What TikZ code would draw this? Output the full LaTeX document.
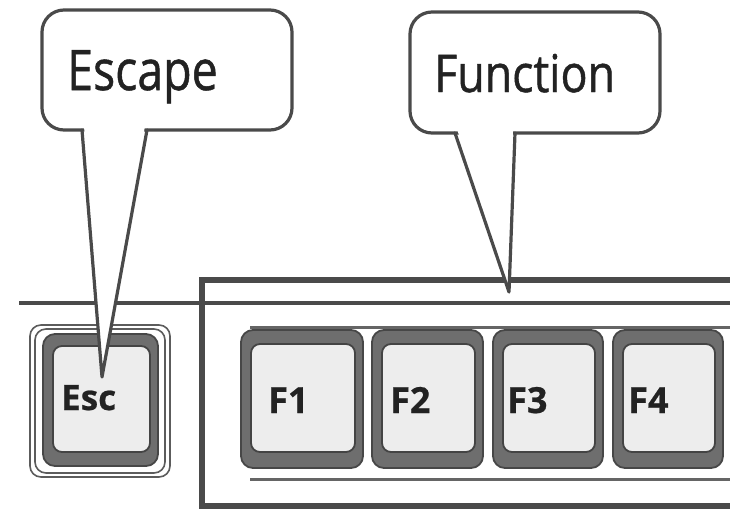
\documentclass[tikz,border=0pt]{standalone}
\usepackage{fontspec}
\setmainfont{Open Sans}
\newfontfamily\bubblefont[FakeBold=0.9]{Open Sans}
\newfontfamily\keyfont[FakeBold=0.6]{Open Sans Bold}
\usepackage{graphicx}
\definecolor{linec}{HTML}{4A4A4A}
\definecolor{ringc}{HTML}{6E6E6E}
\definecolor{ringd}{HTML}{474747}
\definecolor{facec}{HTML}{EDEDED}
\definecolor{faced}{HTML}{444444}
\definecolor{txt}{HTML}{222222}
\begin{document}
\begin{tikzpicture}[x=1pt,y=-1pt,
  callout/.style={draw=linec, line width=3.2pt, fill=white},
  tailline/.style={draw=linec, line width=3.2pt, line join=round, line cap=round},
  frameline/.style={draw=linec, line width=5.5pt},
  thinline/.style={draw=linec, line width=3.2pt},
  trayline/.style={draw=linec!85, line width=3pt},
  ring/.style={draw=ringd, fill=ringc, line width=1.8pt, rounded corners=12pt},
  face/.style={draw=faced, fill=facec, line width=1.8pt, rounded corners=9pt},
  escframe/.style={draw=linec!90, line width=1.6pt, rounded corners=11pt},
  keylabel/.style={font=\fontsize{36}{36}\keyfont, text=txt, inner sep=0pt, anchor=base west},
  bubbletext/.style={text=txt, inner sep=0pt, anchor=base west}]
\useasboundingbox[fill=white] (0,0) rectangle (730,515);

% keyboard frame
\draw[thinline] (19,303) -- (730,303);
\draw[frameline] (740,280) -- (202,280) -- (202,506) -- (740,506);
\draw[trayline] (250,327) -- (730,327);
\draw[trayline] (250,479) -- (730,479);

% Esc key
\draw[escframe] (30,325) rectangle (170,477);
\draw[escframe] (35,329) rectangle (165,473);
\draw[ring] (43,334) rectangle (158,466);
\draw[face] (53,346) rectangle (150,452);
\node[keylabel, font=\fontsize{35}{35}\keyfont] (esc) at (61,410) {Esc};

% F keys
\foreach \xa/\xb in {241/363, 372/483, 493/603, 613/723}{
  \draw[ring] (\xa,330) rectangle (\xb,468);
  \draw[face] ({\xa+10},344) rectangle ({\xb-8},452);
}
\node[keylabel] (f1) at (268,413) {F1};
\node[keylabel] (f2) at (390,413) {F2};
\node[keylabel] (f3) at (507,413) {F3};
\node[keylabel] (f4) at (628,413) {F4};

% Escape callout
\coordinate (esctip) at (102,377);
\coordinate (escl) at (82,130);
\coordinate (escr) at (147,130);
\draw[callout, rounded corners=22pt] (42,10) rectangle (292,130);
\fill[white] (84,126) -- (esctip) -- (145,126) -- cycle;
\draw[tailline] (escl) -- (esctip) -- (escr);
\node[bubbletext] (escape) at (67,90) {\scalebox{0.83}[1]{\fontsize{56}{56}\bubblefont Escape}};

% Function callout
\coordinate (fntip) at (509,292);
\coordinate (fnl) at (455,133);
\coordinate (fnr) at (515,133);
\draw[callout, rounded corners=22pt] (410,12) rectangle (660,133);
\fill[white] (457,129) -- (fntip) -- (513,129) -- cycle;
\draw[tailline] (fnl) -- (fntip) -- (fnr);
\node[bubbletext] (function) at (434,92) {\scalebox{0.86}[1]{\fontsize{52}{52}\bubblefont Function}};
\end{tikzpicture}
\end{document}
